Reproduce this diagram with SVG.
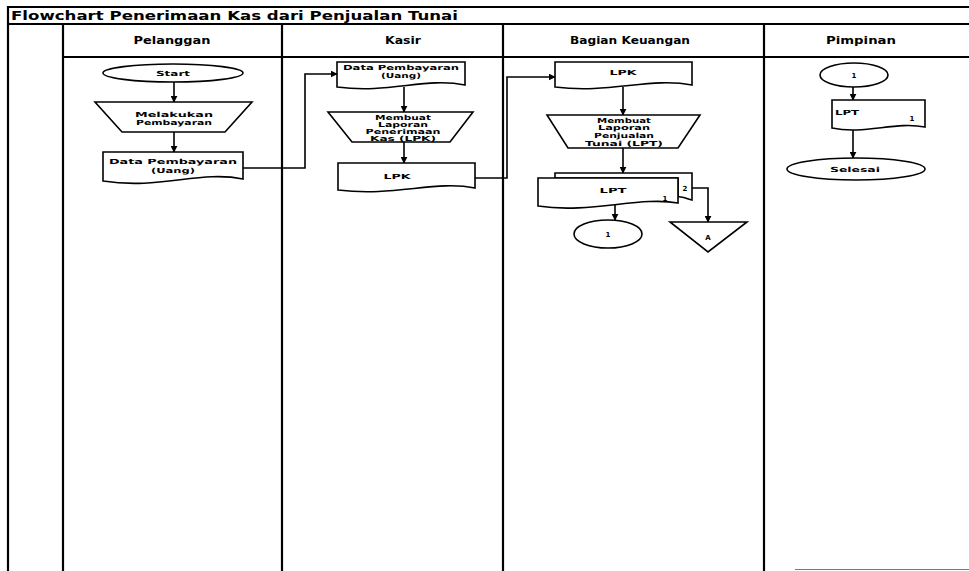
<svg xmlns="http://www.w3.org/2000/svg" width="969" height="571" viewBox="0 0 969 571">
<defs>
<marker id="arr" viewBox="0 0 10 10" refX="9" refY="5" markerWidth="7" markerHeight="7" orient="auto" markerUnits="userSpaceOnUse">
<path d="M0,0 L10,5 L0,10 Z" fill="#000"/>
</marker>
<style>
.frame{stroke:#000;stroke-width:2.2;fill:none}
.shape{fill:#fff;stroke:#000;stroke-width:1.6}
.conn{fill:none;stroke:#000;stroke-width:1.6}
.t{font-family:"DejaVu Sans","Liberation Sans",sans-serif;font-weight:bold;font-size:7px;text-anchor:middle;fill:#000}
.h{font-family:"DejaVu Sans","Liberation Sans",sans-serif;font-weight:bold;font-size:10px;text-anchor:middle;fill:#000}
.title{font-family:"DejaVu Sans","Liberation Sans",sans-serif;font-weight:bold;font-size:12.5px;fill:#000}
</style>
</defs>
<rect width="969" height="571" fill="#fff"/>
<g id="frame">
<line class="frame" x1="8" y1="7" x2="969" y2="7"/>
<line class="frame" x1="8" y1="24" x2="969" y2="24"/>
<line class="frame" x1="63" y1="57" x2="969" y2="57"/>
<line class="frame" x1="8" y1="6" x2="8" y2="571"/>
<line class="frame" x1="63" y1="24" x2="63" y2="571"/>
<line class="frame" x1="282" y1="24" x2="282" y2="571"/>
<line class="frame" x1="503" y1="24" x2="503" y2="571"/>
<line class="frame" x1="764" y1="24" x2="764" y2="571"/>
<line x1="795" y1="569.5" x2="969" y2="569.5" stroke="#777" stroke-width="1"/>
<text class="title" x="11" y="20" textLength="447" lengthAdjust="spacingAndGlyphs">Flowchart Penerimaan Kas dari Penjualan Tunai</text>
<text class="h" x="172" y="44" textLength="77" lengthAdjust="spacingAndGlyphs">Pelanggan</text>
<text class="h" x="403" y="44" textLength="36" lengthAdjust="spacingAndGlyphs">Kasir</text>
<text class="h" x="630" y="44" textLength="120" lengthAdjust="spacingAndGlyphs">Bagian Keuangan</text>
<text class="h" x="861" y="44" textLength="70" lengthAdjust="spacingAndGlyphs">Pimpinan</text>
</g>
<g id="connectors">
<line class="conn" x1="174" y1="82" x2="174" y2="102" marker-end="url(#arr)"/>
<line class="conn" x1="174" y1="132" x2="174" y2="152" marker-end="url(#arr)"/>
<polyline class="conn" points="243,168 305,168 305,74 337,74" marker-end="url(#arr)"/>
<line class="conn" x1="404" y1="87" x2="404" y2="112" marker-end="url(#arr)"/>
<line class="conn" x1="404" y1="142" x2="404" y2="163" marker-end="url(#arr)"/>
<polyline class="conn" points="475,178 507,178 507,77 555,77" marker-end="url(#arr)"/>
<line class="conn" x1="623" y1="87" x2="623" y2="115" marker-end="url(#arr)"/>
<line class="conn" x1="623" y1="148" x2="623" y2="173" marker-end="url(#arr)"/>
<line class="conn" x1="615" y1="205" x2="615" y2="220" marker-end="url(#arr)"/>
<polyline class="conn" points="692,188 708,188 708,222" marker-end="url(#arr)"/>
<line class="conn" x1="853" y1="87" x2="853" y2="100" marker-end="url(#arr)"/>
<line class="conn" x1="853" y1="129" x2="853" y2="158" marker-end="url(#arr)"/>
</g>
<g id="start">
<ellipse class="shape" cx="173" cy="73" rx="70" ry="9"/>
<text class="t" x="173" y="76" textLength="34" lengthAdjust="spacingAndGlyphs">Start</text>
</g>
<g id="melakukan-pembayaran">
<path class="shape" d="M95,102 H252 L225,132 H122 Z"/>
<text class="t" x="174" y="117" textLength="78" lengthAdjust="spacingAndGlyphs">Melakukan</text>
<text class="t" x="174" y="125" textLength="76" lengthAdjust="spacingAndGlyphs">Pembayaran</text>
</g>
<g id="data-pembayaran-pelanggan">
<path class="shape" d="M103,152 H243 V179 C200,170 160,190 103,181 Z"/>
<text class="t" x="173" y="164" textLength="128" lengthAdjust="spacingAndGlyphs">Data Pembayaran</text>
<text class="t" x="173" y="173" textLength="44" lengthAdjust="spacingAndGlyphs">(Uang)</text>
</g>
<g id="data-pembayaran-kasir">
<path class="shape" d="M337,62 H465 V85 C425,77 390,94 337,87 Z"/>
<text class="t" x="401" y="70" textLength="116" lengthAdjust="spacingAndGlyphs">Data Pembayaran</text>
<text class="t" x="401" y="78" textLength="40" lengthAdjust="spacingAndGlyphs">(Uang)</text>
</g>
<g id="membuat-lpk">
<path class="shape" d="M328,112 H473 L450,142 H352 Z"/>
<text class="t" x="403" y="120" textLength="56" lengthAdjust="spacingAndGlyphs">Membuat</text>
<text class="t" x="403" y="127" textLength="50" lengthAdjust="spacingAndGlyphs">Laporan</text>
<text class="t" x="403" y="134" textLength="75" lengthAdjust="spacingAndGlyphs">Penerimaan</text>
<text class="t" x="403" y="141" textLength="66" lengthAdjust="spacingAndGlyphs">Kas (LPK)</text>
</g>
<g id="lpk-kasir">
<path class="shape" d="M338,163 H475 V188 C435,180 395,197 338,190 Z"/>
<text class="t" x="397" y="179" textLength="27" lengthAdjust="spacingAndGlyphs">LPK</text>
</g>
<g id="lpk-keuangan">
<path class="shape" d="M555,62 H692 V85 C650,77 610,94 555,87 Z"/>
<text class="t" x="623" y="75" textLength="27" lengthAdjust="spacingAndGlyphs">LPK</text>
</g>
<g id="membuat-lpt">
<path class="shape" d="M547,115 H700 L678,148 H568 Z"/>
<text class="t" x="624" y="123" textLength="54" lengthAdjust="spacingAndGlyphs">Membuat</text>
<text class="t" x="624" y="130" textLength="52" lengthAdjust="spacingAndGlyphs">Laporan</text>
<text class="t" x="624" y="138" textLength="60" lengthAdjust="spacingAndGlyphs">Penjualan</text>
<text class="t" x="624" y="146" textLength="78" lengthAdjust="spacingAndGlyphs">Tunai (LPT)</text>
</g>
<g id="lpt-keuangan">
<path class="shape" d="M555,173 H692 V200 C685,198 680,196 678,197 V178 H555 Z"/>
<path class="shape" d="M538,178 H678 V203 C640,196 590,214 538,206 Z"/>
<text class="t" x="613" y="193" textLength="27" lengthAdjust="spacingAndGlyphs">LPT</text>
<text class="t" x="665" y="201" font-size="6">1</text>
<text class="t" x="685" y="191" font-size="6">2</text>
</g>
<g id="connector-1-out">
<ellipse class="shape" cx="608" cy="234" rx="34" ry="14"/>
<text class="t" x="608" y="237">1</text>
</g>
<g id="arsip-a">
<path class="shape" d="M670,222 H747 L708,252 Z"/>
<text class="t" x="708" y="240">A</text>
</g>
<g id="connector-1-in">
<ellipse class="shape" cx="854" cy="75" rx="34" ry="12"/>
<text class="t" x="854" y="78">1</text>
</g>
<g id="lpt-pimpinan">
<path class="shape" d="M832,100 H925 V127 C895,121 865,135 832,128 Z"/>
<text class="t" x="847" y="115" textLength="24" lengthAdjust="spacingAndGlyphs">LPT</text>
<text class="t" x="912" y="121" font-size="6">1</text>
</g>
<g id="selesai">
<ellipse class="shape" cx="856" cy="169" rx="69" ry="11"/>
<text class="t" x="855" y="172" textLength="50" lengthAdjust="spacingAndGlyphs">Selesai</text>
</g>
</svg>
